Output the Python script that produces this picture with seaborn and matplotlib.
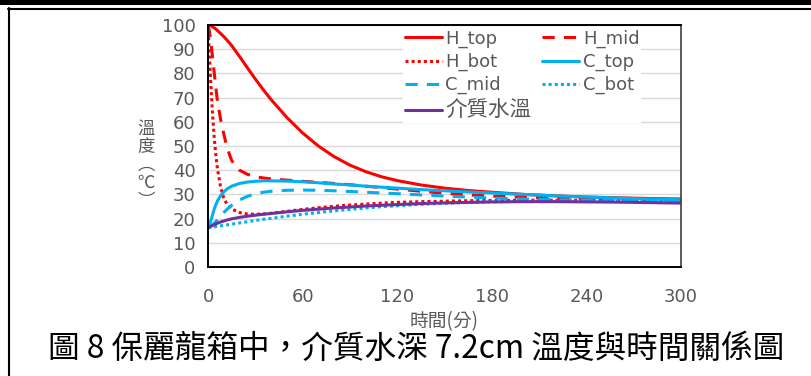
import matplotlib
matplotlib.use("Agg")
import matplotlib.pyplot as plt
from matplotlib.lines import Line2D
from matplotlib.patches import Rectangle
import pandas as pd
import seaborn as sns

# Elapsed time (minutes)
minutes = [0, 1, 2, 3, 4, 5, 6, 8, 10, 12, 15, 20, 25, 30, 35, 40, 50, 60, 70, 80,
           90, 100, 110, 120, 135, 150, 165, 180, 200, 220, 240, 260, 280, 300]

# Temperatures (°C)
h_top = [100, 99.9, 99.6, 99.2, 98.8, 98.3, 97.7, 96.5, 95.2, 93.8, 91.5, 87, 82.3, 77.7,
         73.3, 69.2, 61.8, 55.4, 50, 45.6, 42.1, 39.4, 37.3, 35.7, 33.9, 32.6, 31.6,
         30.9, 30, 29.4, 28.9, 28.6, 28.3, 28.1]
h_mid = [100, 97, 92, 86, 80, 74, 68.5, 61, 55, 49.5, 44, 40, 38.3, 37.3, 36.8, 36.4,
         35.9, 35.4, 35, 34.5, 34, 33.4, 32.8, 32.2, 31.3, 30.5, 29.8, 29.3, 28.8, 28.4,
         28.1, 27.9, 27.8, 27.7]
h_bot = [100, 86, 73, 62, 53, 46, 40.5, 33, 28.5, 26, 24, 22.5, 21.9, 21.8, 21.9, 22.2,
         23, 23.8, 24.5, 25.1, 25.6, 26, 26.4, 26.7, 27, 27.2, 27.4, 27.5, 27.6, 27.6,
         27.5, 27.4, 27.3, 27.2]
c_top = [16.5, 17.5, 19.5, 21.8, 24, 25.8, 27.3, 29.5, 31, 32.2, 33.4, 34.5, 35.1, 35.4,
         35.6, 35.6, 35.5, 35.2, 34.8, 34.3, 33.9, 33.4, 33, 32.6, 32, 31.5, 31, 30.6,
         30, 29.4, 28.9, 28.5, 28.1, 27.8]
c_mid = [16.5, 16.7, 17, 17.5, 18.1, 18.8, 19.5, 21, 22.5, 23.8, 25.5, 27.7, 29.2, 30.2,
         30.9, 31.3, 31.7, 31.8, 31.7, 31.5, 31.2, 30.9, 30.6, 30.3, 29.8, 29.3, 28.9,
         28.5, 28.1, 27.8, 27.6, 27.4, 27.2, 27.1]
c_bot = [16.3, 16.3, 16.4, 16.5, 16.6, 16.7, 16.8, 17, 17.2, 17.4, 17.7, 18.2, 18.7, 19.2,
         19.7, 20.1, 21, 21.8, 22.5, 23.2, 23.8, 24.4, 24.9, 25.3, 25.9, 26.3, 26.7, 26.9,
         27.1, 27.2, 27.2, 27.1, 27, 26.8]
medium = [16.3, 16.6, 16.9, 17.2, 17.5, 17.8, 18.1, 18.6, 19, 19.4, 19.9, 20.5, 21, 21.4,
          21.8, 22.1, 22.8, 23.4, 23.9, 24.4, 24.8, 25.2, 25.5, 25.8, 26.2, 26.5, 26.7,
          26.9, 27, 27, 26.9, 26.8, 26.6, 26.4]

series_names = ["H_top", "H_mid", "H_bot", "C_top", "C_mid", "C_bot", "介質水溫"]
x_ticks = [0, 60, 120, 180, 240, 300]
y_ticks = [0, 10, 20, 30, 40, 50, 60, 70, 80, 90, 100]
caption = "圖 8 保麗龍箱中，介質水深 7.2cm 溫度與時間關係圖"

df = pd.DataFrame({"時間": minutes, "H_top": h_top, "H_mid": h_mid, "H_bot": h_bot,
                   "C_top": c_top, "C_mid": c_mid, "C_bot": c_bot, "介質水溫": medium})
long_df = df.melt(id_vars="時間", var_name="series", value_name="溫度")

sns.set_theme(style="white")
plt.rcParams["font.family"] = ["DejaVu Sans", "Noto Sans CJK TC"]

RED, BLUE, PURPLE = "#FF0000", "#00B0F0", "#7030A0"
DASH, DOT = (0, (4, 3)), (0, (1, 1))
styles = {
    "H_top": (RED, "-"), "H_mid": (RED, DASH), "H_bot": (RED, DOT),
    "C_top": (BLUE, "-"), "C_mid": (BLUE, DASH), "C_bot": (BLUE, DOT),
    "介質水溫": (PURPLE, "-"),
}

W, H = 811, 376
fig = plt.figure(figsize=(W / 100, H / 100), dpi=100)
fig.patch.set_facecolor("white")
ax = fig.add_axes([208 / W, 1 - 267 / H, (681 - 208) / W, (267 - 25) / H])

for name in series_names:
    color, ls = styles[name]
    sub = long_df[long_df["series"] == name]
    sns.lineplot(data=sub, x="時間", y="溫度", ax=ax, color=color, linestyle=ls,
                 linewidth=2.2, legend=False, errorbar=None)

ax.set_xlim(0, 300)
ax.set_ylim(0, 100)
ax.set_xticks(x_ticks)
ax.set_yticks(y_ticks)
ax.yaxis.grid(True, color="#D9D9D9", linewidth=1)
ax.xaxis.grid(False)
ax.set_axisbelow(True)
ax.tick_params(axis="both", length=0, labelsize=13, labelcolor="#595959")
ax.tick_params(axis="y", pad=9)
ax.tick_params(axis="x", pad=15)
for side in ["left", "bottom", "top"]:
    ax.spines[side].set_color("black")
    ax.spines[side].set_linewidth(1.4)
ax.spines["right"].set_color("#404040")
ax.spines["right"].set_linewidth(1.2)

ax.set_xlabel("時間(分)", fontsize=13.5, color="#595959",
              family=["Noto Sans CJK TC", "DejaVu Sans"], labelpad=4)
ax.set_ylabel("溫\n度\n︵\n℃\n︶", rotation=0, fontsize=12.5, color="#595959",
              family=["Noto Sans CJK TC", "DejaVu Sans"], linespacing=1.0,
              ha="center", va="center")
ax.yaxis.set_label_coords((146 - 208) / 473, (267 - 165) / 242)

lines = ax.get_lines()
order = [0, 2, 4, 6, 1, 3, 5]
leg = ax.legend([lines[i] for i in order], [series_names[i] for i in order], ncol=2,
                loc="upper left", bbox_to_anchor=(403 / W, 1 - 28 / H),
                bbox_transform=fig.transFigure, frameon=True, fancybox=False,
                edgecolor="none", facecolor="white", framealpha=1, fontsize=13,
                handlelength=2.05, handletextpad=0.2, columnspacing=0.6,
                labelspacing=0.27, borderpad=0.1, borderaxespad=0)
for t in leg.get_texts():
    t.set_color("#595959")
    if t.get_text() == "介質水溫":
        t.set_fontsize(15.5)
        t.set_family(["Noto Sans CJK TC", "DejaVu Sans"])

fig.text(416 / W, 1 - 349 / H, caption, ha="center", va="center", fontsize=22.8,
         color="black", family=["Noto Sans CJK TC", "DejaVu Sans"])

# Page rules around the figure block
fig.add_artist(Rectangle((0, 1 - 4.5 / H), 1, 4.5 / H, transform=fig.transFigure,
                         facecolor="black", edgecolor="none"))
fig.add_artist(Line2D([8 / W, 1], [1 - 9 / H, 1 - 9 / H], transform=fig.transFigure,
                      color="black", linewidth=1.5))
fig.add_artist(Line2D([8.5 / W, 8.5 / W], [0, 1 - 8 / H], transform=fig.transFigure,
                      color="black", linewidth=1.5))

fig.savefig("out.png", dpi=100)
